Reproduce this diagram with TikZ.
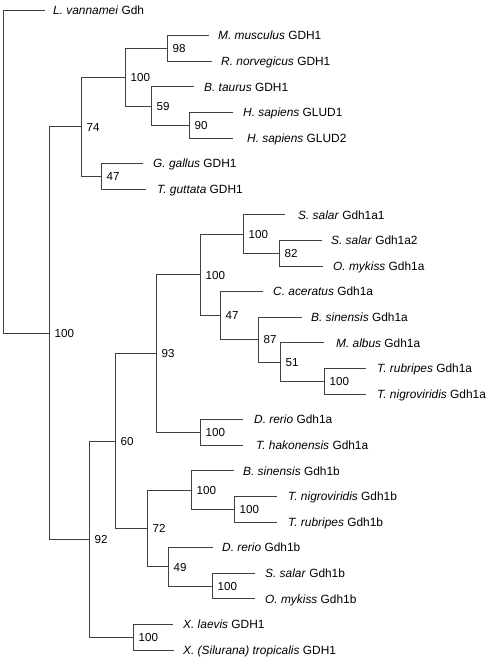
\documentclass[tikz,border=0pt]{standalone}
\usepackage{fontspec}
\setmainfont{Liberation Sans}
\tikzset{
  branch/.style={draw=black!75, line width=1pt},
  taxon/.style={anchor=base west, inner sep=0pt, yshift=-4.3pt, font=\fontsize{11.9}{14}\selectfont},
  boot/.style={anchor=base west, inner sep=0pt, xshift=5.5pt, yshift=-4.3pt, font=\fontsize{11.6}{14}\selectfont},
}
\begin{document}
\begin{tikzpicture}[x=1pt, y=-1pt]
    \useasboundingbox (0,0) rectangle (490,659);
    % Leaves: number / tip / label start / name
    \foreach \i/\tx/\lx/\txt [evaluate=\i as \y using 10+25.6*(\i-1)] in {
        1/45/53/{\textit{L. vannamei} Gdh},
        2/209/218/{\textit{M. musculus} GDH1},
        3/212/221/{\textit{R. norvegicus} GDH1},
        4/194/204/{\textit{B. taurus} GDH1},
        5/233/243/{\textit{H. sapiens} GLUD1},
        6/233/247/{\textit{H. sapiens} GLUD2},
        7/143/153/{\textit{G. gallus} GDH1},
        8/146/157/{\textit{T. guttata} GDH1},
        9/285/298/{\textit{S. salar} Gdh1a1},
        10/322/331/{\textit{S. salar} Gdh1a2},
        11/323/333/{\textit{O. mykiss} Gdh1a},
        12/263/273/{\textit{C. aceratus} Gdh1a},
        13/302/311/{\textit{B. sinensis} Gdh1a},
        14/324/336/{\textit{M. albus} Gdh1a},
        15/366/377/{\textit{T. rubripes} Gdh1a},
        16/366/377/{\textit{T. nigroviridis} Gdh1a},
        17/243/254/{\textit{D. rerio} Gdh1a},
        18/243/256/{\textit{T. hakonensis} Gdh1a},
        19/234/243/{\textit{B. sinensis} Gdh1b},
        20/277/288/{\textit{T. nigroviridis} Gdh1b},
        21/277/288/{\textit{T. rubripes} Gdh1b},
        22/213/222/{\textit{D. rerio} Gdh1b},
        23/255/265/{\textit{S. salar} Gdh1b},
        24/255/265/{\textit{O. mykiss} Gdh1b},
        25/173/183/{\textit{X. laevis} GDH1},
        26/174/183/{\textit{X. (Silurana) tropicalis} GDH1}}
    {
        \coordinate (t\i) at (\tx,\y);
        \node[taxon] (l\i) at (\lx,\y) {\txt};
    }
    % Internal nodes
    \coordinate (root) at (3,171.5);
    \foreach \n/\x/\y in {n100r/49/333, n74/81/126.8, n100m/125/77.2, n98/167/48.4,
        n59/151/106, n90/189/125.2, n47g/101/176.4, n92/89/539.1, n60/115/441,
        n93/156/353.6, n100a/200/274.8, n100s/243/234, n82/279/253.2, n47c/220/315.6,
        n87/258/339.6, n51/280/362, n100t/324/381.2, n100d/200/432.4, n72/147/528.4,
        n100b/191/490, n100tn/234/509.2, n49/168/566.8, n100ss/212/586, n100x/133/637.2}
        \coordinate (\n) at (\x,\y);
    % Branches
    \foreach \p/\c in {root/t1, root/n100r, n100r/n74, n100r/n92, n74/n100m, n74/n47g,
        n100m/n98, n100m/n59, n98/t2, n98/t3, n59/t4, n59/n90, n90/t5, n90/t6,
        n47g/t7, n47g/t8, n92/n60, n92/n100x, n60/n93, n60/n72, n93/n100a, n93/n100d,
        n100a/n100s, n100a/n47c, n100s/t9, n100s/n82, n82/t10, n82/t11,
        n47c/t12, n47c/n87, n87/t13, n87/n51, n51/t14, n51/n100t, n100t/t15, n100t/t16,
        n100d/t17, n100d/t18, n72/n100b, n72/n49, n100b/t19, n100b/n100tn,
        n100tn/t20, n100tn/t21, n49/t22, n49/n100ss, n100ss/t23, n100ss/t24,
        n100x/t25, n100x/t26}
        \draw[branch] (\p) |- (\c);
    % Bootstrap values
    \foreach \n/\v in {n100r/100, n74/74, n100m/100, n98/98, n59/59, n90/90, n47g/47,
        n92/92, n60/60, n93/93, n100a/100, n100s/100, n82/82, n47c/47, n87/87, n51/51,
        n100t/100, n100d/100, n72/72, n100b/100, n100tn/100, n49/49, n100ss/100, n100x/100}
        \node[boot] (b\n) at (\n) {\v};
\end{tikzpicture}
\end{document}
